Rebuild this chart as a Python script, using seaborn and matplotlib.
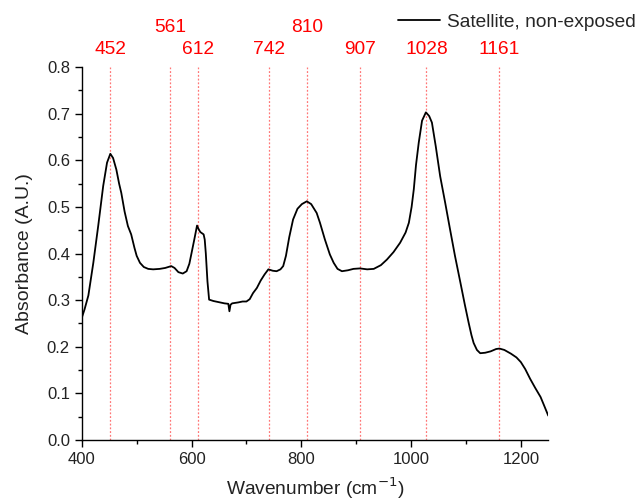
"""
FTIR absorbance spectrum of the non-exposed satellite sample,
with the assigned band positions marked as red dotted lines.
"""

import matplotlib
matplotlib.use("Agg")
import matplotlib.pyplot as plt
import matplotlib.transforms as mtransforms
from matplotlib.ticker import MultipleLocator
import pandas as pd
import seaborn as sns

# ── data ──────────────────────────────────────────────────────────────
wavenumber = [
    400, 405, 412, 421, 430, 439, 446, 452, 457, 463, 468, 472, 478, 484,
    490, 496, 500, 506, 513, 521, 530, 542, 552, 563, 569, 576, 584, 591,
    596, 600, 605, 610, 613, 616, 622, 624, 626, 629, 632, 640, 652, 660,
    667, 669, 671, 674, 685, 693, 700, 706, 712, 719, 726, 733, 740, 748,
    755, 762, 767, 772, 778, 785, 793, 801, 810, 818, 828, 834, 843, 852,
    859, 866, 874, 885, 895, 907, 920, 932, 945, 956, 968, 980, 990, 996,
    1001, 1005, 1009, 1014, 1020, 1027, 1033, 1038, 1045, 1053, 1062, 1071,
    1080, 1090, 1098, 1105, 1110, 1114, 1120, 1126, 1135, 1145, 1155, 1161,
    1170, 1182, 1192, 1200, 1208, 1217, 1226, 1236, 1242, 1250,
]
absorbance = [
    0.262, 0.280, 0.310, 0.380, 0.460, 0.545, 0.595, 0.614, 0.605, 0.580,
    0.550, 0.530, 0.490, 0.459, 0.441, 0.412, 0.395, 0.380, 0.371, 0.367,
    0.366, 0.367, 0.369, 0.373, 0.369, 0.360, 0.357, 0.362, 0.378, 0.401,
    0.430, 0.460, 0.452, 0.446, 0.441, 0.430, 0.400, 0.340, 0.301, 0.298,
    0.295, 0.293, 0.292, 0.276, 0.290, 0.293, 0.295, 0.297, 0.297, 0.302,
    0.315, 0.326, 0.342, 0.355, 0.366, 0.363, 0.362, 0.366, 0.373, 0.395,
    0.435, 0.473, 0.496, 0.506, 0.512, 0.506, 0.487, 0.466, 0.430, 0.398,
    0.380, 0.367, 0.362, 0.364, 0.367, 0.368, 0.366, 0.367, 0.375, 0.387,
    0.403, 0.423, 0.445, 0.466, 0.500, 0.538, 0.590, 0.638, 0.685, 0.703,
    0.695, 0.681, 0.630, 0.566, 0.510, 0.452, 0.395, 0.337, 0.290, 0.251,
    0.225, 0.208, 0.193, 0.186, 0.187, 0.190, 0.195, 0.196, 0.193, 0.185,
    0.177, 0.167, 0.152, 0.131, 0.112, 0.092, 0.075, 0.052,
]

# band positions and whether the label sits in the upper row
band_positions = [452, 561, 612, 742, 810, 907, 1028, 1161]
band_upper_row = [False, True, False, False, True, False, False, False]

SERIES_NAME = "Satellite, non-exposed"


def main() -> None:
    sns.set_theme(style="ticks")
    plt.rcParams["font.family"] = ["Liberation Sans", "DejaVu Sans"]

    df = pd.DataFrame({"Wavenumber": wavenumber, "Absorbance": absorbance})

    fig = plt.figure(figsize=(6.39, 5.01), dpi=100)
    ax = fig.add_axes([0.128, 0.122, 0.730, 0.744])

    sns.lineplot(
        data=df, x="Wavenumber", y="Absorbance", ax=ax,
        color="black", linewidth=1.3, sort=False, estimator=None,
        label=SERIES_NAME,
    )

    # band markers + labels above the frame
    trans = mtransforms.blended_transform_factory(ax.transData, ax.transAxes)
    for pos, upper in zip(band_positions, band_upper_row):
        ax.axvline(pos, color="#ff5555", linestyle=(0, (1.5, 1.5)),
                   linewidth=0.9, alpha=0.8, zorder=0)
        ax.text(pos, 1.107 if upper else 1.048, str(pos), transform=trans,
                ha="center", va="center", color="red", fontsize=13.8,
                clip_on=False)

    ax.set_xlim(400, 1250)
    ax.set_ylim(0, 0.8)
    ax.xaxis.set_major_locator(MultipleLocator(200))
    ax.xaxis.set_minor_locator(MultipleLocator(100))
    ax.yaxis.set_major_locator(MultipleLocator(0.1))
    ax.yaxis.set_minor_locator(MultipleLocator(0.05))
    ax.yaxis.set_major_formatter(plt.FormatStrFormatter("%.1f"))

    ax.tick_params(which="major", direction="out", length=5, width=1.0,
                   labelsize=12, color="black", labelcolor="#222222")
    ax.tick_params(which="minor", direction="out", length=3, width=1.0,
                   color="black")
    for side in ("top", "right"):
        ax.spines[side].set_visible(False)
    for side in ("left", "bottom"):
        ax.spines[side].set_color("black")
        ax.spines[side].set_linewidth(1.0)

    ax.set_xlabel("Wavenumber (cm$^{-1}$)", fontsize=13.8, color="#222222",
                  labelpad=6)
    ax.set_ylabel("Absorbance (A.U.)", fontsize=14, color="#222222",
                  labelpad=10)

    ax.legend(
        loc="center right", bbox_to_anchor=(636 / 639, 1 - 22 / 501),
        bbox_transform=fig.transFigure, frameon=False, fontsize=13.8,
        handlelength=2.2, handletextpad=0.36, borderpad=0, borderaxespad=0,
    )

    fig.savefig("out.png", dpi=100)
    plt.close(fig)


if __name__ == "__main__":
    main()
